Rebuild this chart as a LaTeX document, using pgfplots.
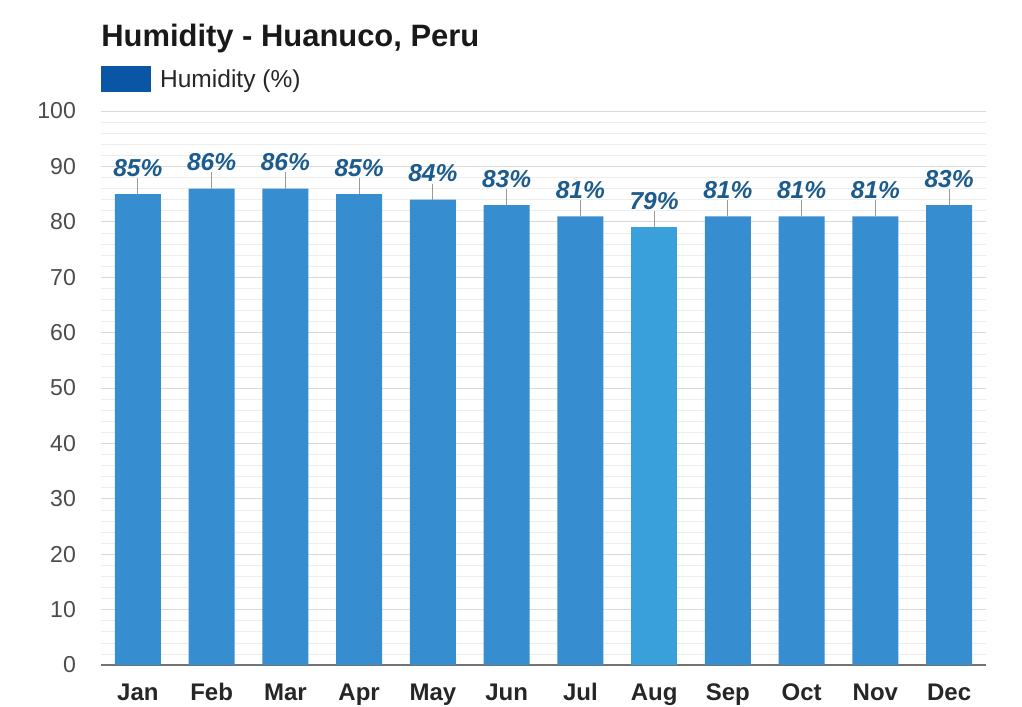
\documentclass[border=0pt]{standalone}
\usepackage{pgfplots}
\pgfplotsset{compat=1.18}
\usepackage{fontspec}
\setmainfont{Liberation Sans}
\definecolor{barblue}{HTML}{368DCF}
\definecolor{augblue}{HTML}{3AA0DC}
\definecolor{labelblue}{HTML}{1B5B8E}
\definecolor{legendblue}{HTML}{0B56A4}
\pgfplotsset{/pgf/number format/assume math mode=true}
\begin{document}
\begin{tikzpicture}
\path[use as bounding box] (0,0) rectangle (766.5pt,530.25pt);
\node[anchor=base west, font=\bfseries\fontsize{23.2}{26}\selectfont, inner sep=0, text=black!90] at (75.75pt,495pt) {Humidity - Huanuco, Peru};
\begin{axis}[
  at={(75.75pt,31.5pt)}, anchor=south west, scale only axis,
  width=663.75pt, height=415.5pt,
  xmin=-0.5, xmax=11.5, ymin=0, ymax=100,
  xtick={0,...,11},
  xticklabels={Jan,Feb,Mar,Apr,May,Jun,Jul,Aug,Sep,Oct,Nov,Dec},
  ytick={0,10,...,100}, minor y tick num=4,
  ymajorgrids, yminorgrids,
  major grid style={draw=black!15, line width=0.6pt},
  minor grid style={draw=black!7, line width=0.5pt},
  axis x line*=bottom, axis y line*=left,
  y axis line style={draw=none},
  x axis line style={-, draw=black!55, line width=0.8pt},
  tick style={draw=none},
  yticklabel style={font=\fontsize{17.3}{20}\selectfont, text=black!70, xshift=-15.3pt},
  xticklabel style={font=\bfseries\fontsize{18}{21}\selectfont, text=black!85, text height=12.9pt, text depth=0pt, yshift=-10.5pt},
  legend style={draw=none, fill=none, inner sep=0pt, at={(rel axis cs:0,1)}, anchor=south west, yshift=14pt, font=\fontsize{18.4}{21}\selectfont, text=black!85},
  legend image code/.code={\fill[legendblue] (0pt,-8.6pt) rectangle (36.75pt,10.15pt);},
  nodes near coords={\pgfmathprintnumber{\pgfplotspointmeta}\%},
  every node near coord/.append style={font=\bfseries\itshape\fontsize{18.4}{21}\selectfont, text=labelblue, anchor=south, inner sep=0pt, yshift=13pt},
  clip=false,
]
\pgfplotsset{legend style={/tikz/every odd column/.append style={column sep=5pt}}}
\addlegendimage{legendblue}
\addlegendentry{Humidity (\%)}
\addplot[ybar, bar width=34.5pt, bar shift=0pt, fill=barblue, draw=none,
  error bars/.cd, y dir=plus, y fixed=2.9, error mark=none,
  error bar style={draw=black!40, line width=0.6pt}]
  coordinates {(0,85) (1,86) (2,86) (3,85) (4,84) (5,83) (6,81) (8,81) (9,81) (10,81) (11,83)};
\addplot[ybar, bar width=34.5pt, bar shift=0pt, fill=augblue, draw=none,
  error bars/.cd, y dir=plus, y fixed=2.9, error mark=none,
  error bar style={draw=black!40, line width=0.6pt}]
  coordinates {(7,79)};
\end{axis}
\end{tikzpicture}
\end{document}
